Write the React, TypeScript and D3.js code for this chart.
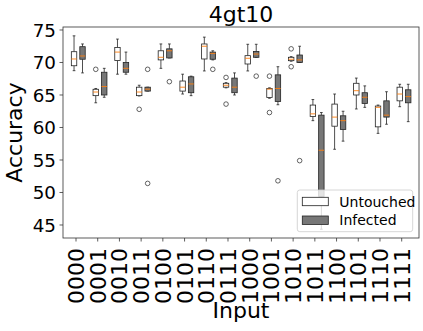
import React, { useRef, useEffect } from 'react';
import { select, scaleLinear } from 'd3';

const categories = ['0000', '0001', '0010', '0011', '0100', '0101', '0110', '0111',
  '1000', '1001', '1010', '1011', '1100', '1101', '1110', '1111'];

// [whisker low, q1, median, q3, whisker high]
const untouchedBoxes = [
  [68.74, 69.5, 70.54, 71.66, 74.1],
  [63.8, 64.9, 65.46, 65.88, 66.0],
  [68.2, 70.3, 71.6, 72.3, 73.6],
  [64.85, 64.9, 65.46, 66.2, 66.5],
  [69.1, 70.4, 70.8, 71.8, 72.85],
  [65.15, 65.6, 66.2, 67.15, 68.2],
  [68.7, 70.54, 72.5, 72.85, 73.9],
  [66.1, 66.2, 66.5, 66.8, 66.9],
  [68.7, 69.77, 70.65, 71.05, 72.8],
  [64.5, 64.6, 65.9, 66.0, 66.1],
  [70.2, 70.28, 70.5, 70.8, 70.9],
  [61.05, 61.7, 62.1, 63.45, 64.3],
  [56.65, 60.2, 61.6, 63.6, 65.15],
  [62.85, 65.0, 65.66, 66.8, 67.6],
  [59.1, 60.1, 63.1, 63.3, 63.45],
  [63.2, 64.1, 65.15, 66.2, 66.65],
];

const infectedBoxes = [
  [68.4, 70.5, 71.0, 72.43, 72.85],
  [64.65, 65.0, 66.3, 68.5, 69.1],
  [68.2, 68.5, 69.1, 70.0, 71.6],
  [65.6, 65.6, 65.9, 66.2, 66.2],
  [70.7, 70.7, 71.8, 72.1, 72.85],
  [64.9, 65.35, 66.7, 67.8, 67.9],
  [70.4, 70.5, 71.4, 71.6, 71.8],
  [65.0, 65.35, 66.2, 67.6, 68.4],
  [70.8, 70.8, 71.3, 71.7, 72.8],
  [63.5, 64.0, 66.0, 68.1, 69.35],
  [70.0, 70.0, 70.4, 71.15, 72.5],
  [44.35, 49.4, 56.5, 61.9, 62.3],
  [57.9, 59.7, 61.05, 61.8, 62.5],
  [63.1, 63.7, 64.65, 65.35, 66.4],
  [60.5, 61.6, 61.9, 64.1, 65.5],
  [60.9, 63.8, 64.75, 65.8, 66.65],
];

const untouchedFliers = [[], [68.95], [], [62.8], [], [], [], [67.7, 63.6],
  [], [67.9, 62.3], [72.1, 69.35], [], [], [], [], []];
const infectedFliers = [[], [], [], [68.95, 51.4], [67.05], [], [68.95], [],
  [67.9], [51.8], [54.9], [], [], [], [], []];

const yTicks = [45, 50, 55, 60, 65, 70, 75];
const seriesNames = ['Untouched', 'Infected'];
const seriesFill = ['#ffffff', '#777777'];

function App() {
  const ref = useRef(null);

  useEffect(() => {
    const svg = select(ref.current);
    svg.selectAll('*').remove();
    const font = 'DejaVu Sans, sans-serif';

    const left = 63, right = 419, top = 27, bottom = 238;
    const x = scaleLinear().domain([0, 15]).range([76, 401.7]);
    const y = scaleLinear().domain([43.0, 75.46]).range([bottom, top]);

    const offsets = [-0.09, 0.3];
    const halfW = 0.125;
    const series = [
      { boxes: untouchedBoxes, fliers: untouchedFliers },
      { boxes: infectedBoxes, fliers: infectedFliers },
    ];

    const g = svg.append('g');
    series.forEach((s, si) => {
      s.boxes.forEach((b, i) => {
        const cx = x(i + offsets[si]);
        const x0 = x(i + offsets[si] - halfW);
        const x1 = x(i + offsets[si] + halfW);
        const capW = (x1 - x0) / 4;
        // whiskers
        g.append('line').attr('x1', cx).attr('x2', cx).attr('y1', y(b[0])).attr('y2', y(b[1]))
          .attr('stroke', '#222').attr('stroke-width', 0.8);
        g.append('line').attr('x1', cx).attr('x2', cx).attr('y1', y(b[3])).attr('y2', y(b[4]))
          .attr('stroke', '#222').attr('stroke-width', 0.8);
        [b[0], b[4]].forEach((v) => {
          g.append('line').attr('x1', cx - capW).attr('x2', cx + capW).attr('y1', y(v)).attr('y2', y(v))
            .attr('stroke', '#222').attr('stroke-width', 0.8);
        });
        g.append('rect').attr('x', x0).attr('y', y(b[3]))
          .attr('width', x1 - x0).attr('height', Math.max(0.5, y(b[1]) - y(b[3])))
          .attr('fill', seriesFill[si]).attr('stroke', '#222').attr('stroke-width', 0.8);
        g.append('line').attr('x1', x0).attr('x2', x1).attr('y1', y(b[2])).attr('y2', y(b[2]))
          .attr('stroke', '#ff7f0e').attr('stroke-width', 0.9);
        s.fliers[i].forEach((v) => {
          g.append('circle').attr('cx', cx).attr('cy', y(v)).attr('r', 2.3)
            .attr('fill', 'none').attr('stroke', '#222').attr('stroke-width', 0.7);
        });
      });
    });

    // frame
    svg.append('rect').attr('x', left).attr('y', top).attr('width', right - left).attr('height', bottom - top)
      .attr('fill', 'none').attr('stroke', '#333').attr('stroke-width', 0.8);

    // y axis
    yTicks.forEach((t) => {
      svg.append('line').attr('x1', left - 3.5).attr('x2', left).attr('y1', y(t)).attr('y2', y(t))
        .attr('stroke', '#333').attr('stroke-width', 0.8);
      svg.append('text').attr('x', 56).attr('y', y(t)).attr('dy', '0.36em')
        .attr('text-anchor', 'end').attr('font-family', font).attr('font-size', 18.3).text(t);
    });

    // x axis
    categories.forEach((c, i) => {
      svg.append('line').attr('x1', x(i)).attr('x2', x(i)).attr('y1', bottom).attr('y2', bottom + 3.5)
        .attr('stroke', '#333').attr('stroke-width', 0.8);
      svg.append('text').attr('transform', `translate(${x(i) + 8},248) rotate(-90)`)
        .attr('text-anchor', 'end').attr('font-family', font).attr('font-size', 22).text(c);
    });

    svg.append('text').attr('x', (left + right) / 2).attr('y', 22).attr('text-anchor', 'middle')
      .attr('font-family', font).attr('font-size', 22).text('4gt10');
    svg.append('text').attr('x', (left + right) / 2).attr('y', 318).attr('text-anchor', 'middle')
      .attr('font-family', font).attr('font-size', 22).text('Input');
    svg.append('text').attr('transform', `translate(22,${(top + bottom) / 2}) rotate(-90)`)
      .attr('text-anchor', 'middle').attr('font-family', font).attr('font-size', 22).text('Accuracy');

    // legend
    const lg = svg.append('g');
    lg.append('rect').attr('x', 297.3).attr('y', 190).attr('width', 115.4).attr('height', 41.7)
      .attr('rx', 2.5).attr('fill', 'rgba(255,255,255,0.8)').attr('stroke', '#cccccc').attr('stroke-width', 0.8);
    seriesNames.forEach((n, i) => {
      const yy = 197.3 + i * 18.7;
      lg.append('rect').attr('x', 302.3).attr('y', yy).attr('width', 26).attr('height', 8.4)
        .attr('fill', seriesFill[i]).attr('stroke', '#222').attr('stroke-width', 0.8);
      lg.append('text').attr('x', 339.3).attr('y', yy + 9.2).attr('font-family', font)
        .attr('font-size', 14).text(n);
    });
  }, []);

  return (
    <div style={{ position: 'absolute', left: 0, top: 0 }}>
      <svg ref={ref} width={423} height={331}></svg>
    </div>
  );
}

export default App;
